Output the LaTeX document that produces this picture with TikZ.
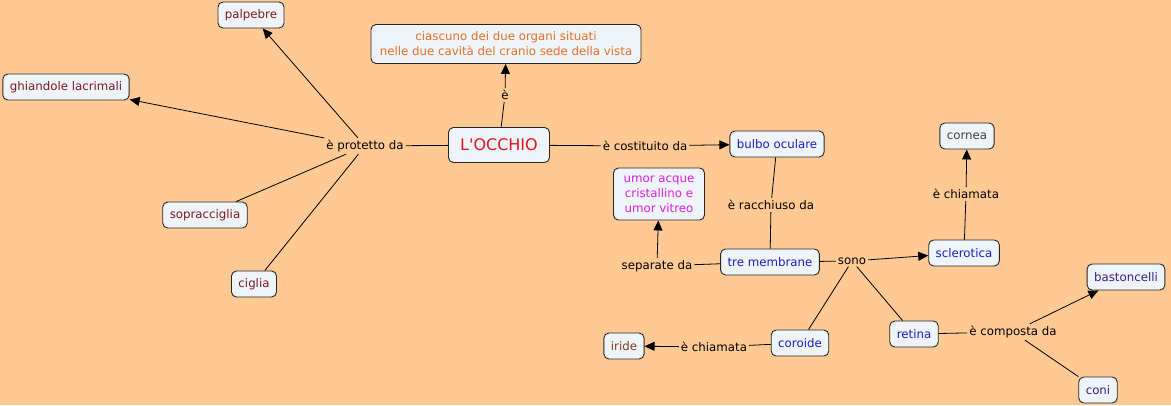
\documentclass[tikz,border=0pt]{standalone}
\usepackage{fontspec}
\setmainfont{DejaVu Sans}
\usepackage{tikz}
\usetikzlibrary{arrows.meta, positioning}
\usepackage{xcolor}
\definecolor{peach}{RGB}{255,201,148}
\definecolor{paleblue}{RGB}{238,244,248}
\definecolor{darkred}{RGB}{128,24,32}
\definecolor{defnorange}{RGB}{230,112,40}
\definecolor{titlered}{RGB}{225,20,30}
\definecolor{partblue}{RGB}{30,30,200}
\definecolor{umormag}{RGB}{225,30,225}
\definecolor{irisbrown}{RGB}{130,60,30}
\definecolor{cellpurple}{RGB}{60,30,130}

\begin{document}
\begin{tikzpicture}[
    x=1pt, y=-1pt,
    concept/.style={rectangle, draw=black!85, line width=0.9pt, fill=paleblue,
                    minimum height=26pt, inner xsep=7pt, inner ysep=3pt,
                    align=center, rounded corners=5pt,
                    font=\fontsize{11.8}{15}\selectfont},
    linkph/.style={inner sep=2pt, font=\fontsize{11.8}{14}\selectfont},
    arrow/.style={-{Triangle[length=10pt, width=9pt]}, line width=0.8pt},
    plain/.style={line width=0.8pt}
]
\useasboundingbox[fill=peach] (0,0) rectangle (1171,405);

% concepts
\node[concept, text=titlered, font=\fontsize{16}{19}\selectfont, minimum height=35pt, minimum width=101pt] (occhio) at (499,145) {L\textquotesingle OCCHIO};
\node[concept, text=defnorange, minimum height=39pt, minimum width=270pt] (defn) at (506,44) {ciascuno dei due organi situati\\nelle due cavità del cranio sede della vista};
\node[concept, text=darkred] (palpebre) at (251,15) {palpebre};
\node[concept, text=darkred] (ghiandole) at (66,87) {ghiandole lacrimali};
\node[concept, text=darkred] (sopracc) at (205,215) {sopracciglia};
\node[concept, text=darkred] (ciglia) at (254,284) {ciglia};
\node[concept, text=partblue] (bulbo) at (777,144) {bulbo oculare};
\node[concept, text=umormag, minimum height=52pt, minimum width=91pt] (umor) at (659,194) {umor acque\\cristallino e\\umor vitreo};
\node[concept, text=partblue] (membrane) at (770,262) {tre membrane};
\node[concept, text=black!75] (cornea) at (967,136) {cornea};
\node[concept, text=partblue] (sclerotica) at (964,253) {sclerotica};
\node[concept, text=partblue] (coroide) at (800,343) {coroide};
\node[concept, text=partblue] (retina) at (914,334) {retina};
\node[concept, text=irisbrown] (iride) at (624,346) {iride};
\node[concept, text=cellpurple] (bastoncelli) at (1126,277) {bastoncelli};
\node[concept, text=cellpurple] (coni) at (1098,390) {coni};

% linking phrases
\node[linkph] (protetto) at (365,146) {è protetto da};
\node[linkph] (e) at (505,95) {è};
\node[linkph] (costituito) at (645,146) {è costituito da};
\node[linkph] (racchiuso) at (771,205) {è racchiuso da};
\node[linkph] (separate) at (657,266) {separate da};
\node[linkph] (sono) at (852,261) {sono};
\node[linkph] (chiamataA) at (966,194) {è chiamata};
\node[linkph] (chiamataB) at (714,347) {è chiamata};
\node[linkph] (composta) at (1013,332) {è composta da};

% connectors
\draw[plain] (occhio) -- (protetto);
\draw[arrow] (protetto) -- (palpebre);
\draw[arrow] (protetto) -- (ghiandole);
\draw[plain] (protetto) -- (sopracc);
\draw[plain] (protetto) -- (ciglia);
\draw[plain] (occhio) -- (e);
\draw[arrow] (e) -- (defn);
\draw[plain] (occhio) -- (costituito);
\draw[arrow] (costituito) -- (bulbo);
\draw[plain] (bulbo) -- (racchiuso);
\draw[plain] (racchiuso) -- (membrane);
\draw[plain] (membrane) -- (separate);
\draw[arrow] (separate) -- (umor);
\draw[plain] (membrane) -- (sono);
\draw[arrow] (sono) -- (sclerotica);
\draw[plain] (sono) -- (coroide);
\draw[plain] (sono) -- (retina);
\draw[plain] (sclerotica) -- (chiamataA);
\draw[arrow] (chiamataA) -- (cornea);
\draw[plain] (coroide) -- (chiamataB);
\draw[arrow] (chiamataB) -- (iride);
\draw[plain] (retina) -- (composta);
\draw[arrow] (composta) -- (bastoncelli);
\draw[plain] (composta) -- (coni);
\end{tikzpicture}
\end{document}
